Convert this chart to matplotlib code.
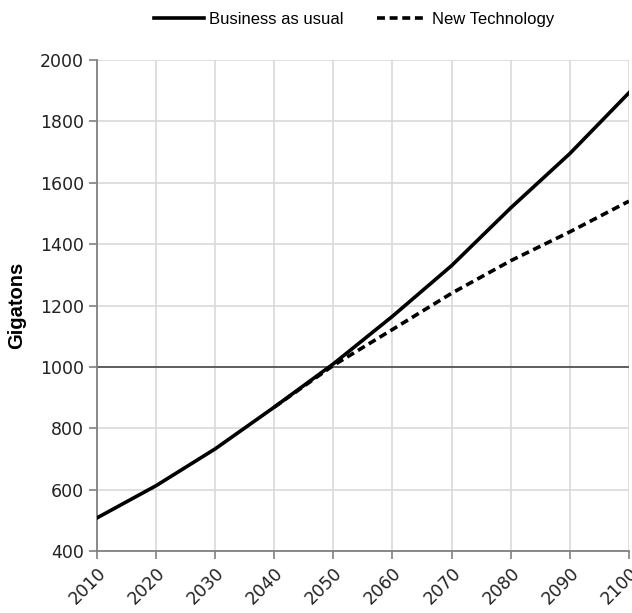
import matplotlib
matplotlib.use('Agg')
import matplotlib.pyplot as plt

years = [2010, 2020, 2030, 2040, 2050, 2060, 2070, 2080, 2090, 2100]
bau = [508, 613, 733, 869, 1010, 1165, 1330, 1518, 1695, 1893]
nt_years = [2040, 2050, 2060, 2070, 2080, 2090, 2100]
nt = [869, 1005, 1122, 1240, 1346, 1440, 1540]

fig = plt.figure(figsize=(6.32, 6.13), dpi=100)
ax = fig.add_axes([0.1535, 0.1011, 0.8415, 0.8009])

ax.plot(years, bau, c='k', lw=2.6, label='Business as usual', zorder=3)
ax.plot(nt_years, nt, c='k', lw=2.6, ls=(0, (2.2, 1.3)), label='New Technology', zorder=3)
ax.axhline(1000, c='#555555', lw=1.3, zorder=2)

ax.set_xlim(2010, 2100)
ax.set_ylim(400, 2000)
ax.set_xticks(years)
ax.set_yticks(range(400, 2001, 200))
ax.grid(True, color='#d9d9d9', lw=1.2, zorder=0)
ax.set_axisbelow(True)
for s in ['top', 'right']:
    ax.spines[s].set_visible(False)
for s in ['left', 'bottom']:
    ax.spines[s].set_color('#808080')
    ax.spines[s].set_linewidth(1.3)
ax.tick_params(axis='both', colors='#808080', length=6, width=1.2, labelcolor='#222222', labelsize=12.5)
for lab in ax.get_xticklabels():
    lab.set_rotation(45)
    lab.set_ha('right')
    lab.set_rotation_mode('anchor')
ax.set_ylabel('Gigatons', fontsize=14.5, fontweight='bold', family='Liberation Sans', labelpad=10)

fig.legend(loc='upper center', bbox_to_anchor=(0.56, 1.005), ncol=2, frameon=False,
           prop={'family': 'Liberation Sans', 'size': 12}, handlelength=3.0, columnspacing=2.0,
           handletextpad=0.3)

fig.savefig('out.png', dpi=100)
